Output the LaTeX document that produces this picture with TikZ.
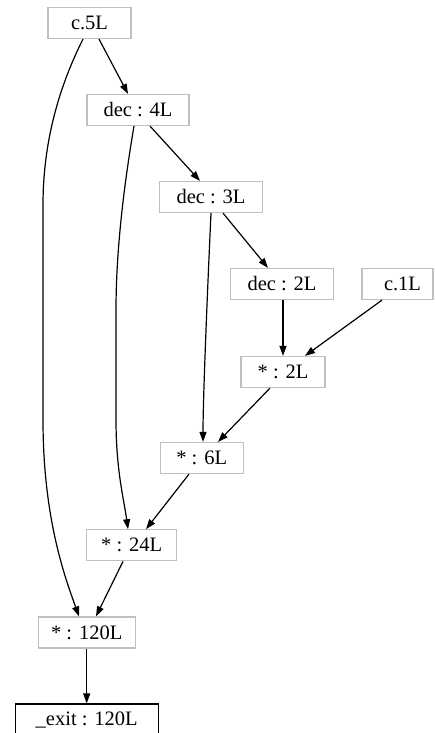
\documentclass[tikz,border=0pt]{standalone}
\usepackage{fontspec}
\setmainfont{Liberation Serif}
\usetikzlibrary{arrows.meta}
\begin{document}
\begin{tikzpicture}[x=1pt,y=-1pt,
  box/.style={draw=gray!50, line width=1.2pt, rectangle, minimum height=31pt, inner sep=0pt, font=\fontsize{20.5}{22}\selectfont},
  exitbox/.style={box, draw=black},
  edge/.style={line width=1.2pt, -{Triangle[length=10pt,width=7pt]}}]
\useasboundingbox (0,0) rectangle (435,733);
\node[box, minimum width=83pt] (c5) at (89.5,23) {c.5L};
\node[box, minimum width=102pt] (d4) at (138,110) {dec : 4L};
\node[box, minimum width=103pt] (d3) at (211,197) {dec : 3L};
\node[box, minimum width=103pt] (d2) at (282,284) {dec : 2L};
\node[box, minimum width=71pt] (c1) at (397.5,284) {\hspace*{10pt}c.1L};
\node[box, minimum width=84pt] (m2) at (283,372) {* : 2L};
\node[box, minimum width=83pt] (m6) at (201.7,458) {* : 6L};
\node[box, minimum width=90pt] (m24) at (131.7,545.3) {* : 24L};
\node[box, minimum width=97pt] (m120) at (86.7,632.5) {* : 120L};
\node[exitbox, minimum width=143pt] (ex) at (86.7,719.5) {\_exit : 120L};

\draw[edge] (c5.south -| 99,0) -- (d4.north -| 128,0);
\draw[edge] (c5.south -| 83,0) .. controls (60,85) and (43,140) .. (43,205) -- (43,420) .. controls (43,520) and (66,580) .. (m120.north -| 79,0);
\draw[edge] (d4.south -| 150,0) -- (d3.north -| 200,0);
\draw[edge] (d4.south -| 134,0) .. controls (124,185) and (116,250) .. (116,310) -- (116,420) .. controls (116,470) and (124,500) .. (m24.north -| 128,0);
\draw[edge] (d3.south -| 223,0) -- (d2.north -| 268,0);
\draw[edge] (d3.south -| 211,0) .. controls (207,300) and (203,400) .. (m6.north -| 203,0);
\draw[edge] (d2.south -| 283,0) -- (m2.north -| 283,0);
\draw[edge] (c1.south -| 382,0) -- (m2.north -| 305,0);
\draw[edge] (m2.south -| 270,0) -- (m6.north -| 218,0);
\draw[edge] (m6.south -| 189,0) -- (m24.north -| 146,0);
\draw[edge] (m24.south -| 123,0) -- (m120.north -| 96,0);
\draw[edge] (m120) -- (ex);
\end{tikzpicture}
\end{document}
